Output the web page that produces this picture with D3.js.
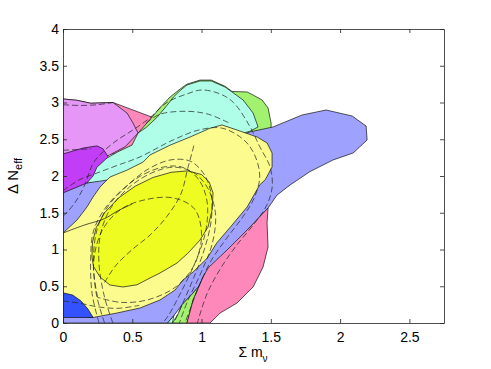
<!DOCTYPE html>
<html>
<head>
<meta charset="utf-8">
<script src="https://cdn.jsdelivr.net/npm/d3@7"></script>
<style>
  body { margin: 0; background: #fff; }
  text { font-family: "Liberation Sans", Arial, Helvetica, sans-serif; }
</style>
</head>
<body>
<svg id="chart" width="491" height="369"></svg>
<script>
'use strict';

// axis ticks
var xTicks = [0, 0.5, 1, 1.5, 2, 2.5];
var yTicks = [0, 0.5, 1, 1.5, 2, 2.5, 3, 3.5, 4];

// filled contours (sum m_nu, delta N_eff), in drawing order
var pinkTop = [[0,3.048],[0.1,3.03],[0.2,2.99],[0.361,3.0],[0.505,2.898],[0.643,2.80],[0.66,2.6],[0.5,2.3],[0,2.3]];
var greenTop = [[0.542,2.585],[0.643,2.80],[0.70,2.93],[0.773,3.075],[0.85,3.19],[0.895,3.25],[0.989,3.305],[1.07,3.305],
	[1.17,3.22],[1.22,3.15],[1.329,3.143],[1.372,3.102],[1.437,3.034],[1.48,2.925],[1.502,2.721],[1.502,2.65],
	[1.4,2.55],[1.0,2.3],[0.6,2.3]];
var violet = [[0,3.048],[0.1,3.03],[0.2,2.99],[0.361,3.0],[0.462,2.857],[0.505,2.721],[0.542,2.585],[0.45,2.4],[0.3,2.25],[0,2.2]];
var purple = [[0,2.30],[0.144,2.38],[0.245,2.41],[0.289,2.37],[0.33,2.25],[0.3,2.0],[0.15,1.8],[0,1.7]];
var blue = [[0,1.77],[0.173,1.905],[0.6,2.1],[1.0,2.35],[1.25,2.53],[1.35,2.6],[1.516,2.667],[1.726,2.83],[1.899,2.898],
	[2.087,2.816],[2.188,2.68],[2.195,2.49],[2.094,2.313],[1.949,2.218],[1.783,2.06],[1.639,1.878],[1.545,1.741],
	[1.48,1.565],[1.3,1.2],[1.1,0.8],[1.011,0.626],[0.989,0.517],[0.93,0.39],[0.86,0.25],[0.80,0.1],[0.755,0],[0,0]];
var cyan = [[0.542,2.585],[0.6,2.66],[0.68,2.8],[0.75,2.96],[0.8,3.08],[0.85,3.17],[0.895,3.238],[0.989,3.293],[1.07,3.293],
	[1.17,3.21],[1.22,3.143],[1.3,3.034],[1.372,2.857],[1.408,2.667],[1.35,2.61],[1.28,2.57],[1.2,2.52],[1.0,2.4],
	[0.8,2.25],[0.6,2.12],[0.47,2.03],[0.34,1.95],[0.173,1.905],[0.217,2.0],[0.245,2.12],[0.318,2.245],[0.397,2.33],[0.498,2.42]];
var cyanLow = [[0.755,0],[0.79,0],[0.80,0.1]];
var greenLow = [[0.79,0],[0.83,0.12],[0.86,0.25],[0.93,0.39],[0.989,0.517],[1.011,0.626],[0.939,0.313],[0.895,0]];
var pinkLow = [[0.895,0],[0.939,0.313],[1.011,0.626],[1.047,0.748],[1.184,0.993],[1.329,1.265],[1.48,1.565],[1.473,1.361],
	[1.48,1.034],[1.444,0.762],[1.372,0.49],[1.256,0.272],[1.134,0.136],[1.061,0]];
var yellowLight = [[0,1.224],[0.101,1.40],[0.173,1.578],[0.217,1.714],[0.267,1.85],[0.339,1.986],[0.462,2.08],[0.578,2.19],
	[0.628,2.286],[0.773,2.42],[0.917,2.53],[1.061,2.65],[1.148,2.694],[1.256,2.626],[1.401,2.531],[1.473,2.449],
	[1.509,2.313],[1.509,2.122],[1.46,1.95],[1.42,1.88],[1.33,1.58],[1.21,1.31],[1.11,1.09],[1.04,0.88],[0.939,0.694],
	[0.866,0.585],[0.809,0.449],[0.70,0.313],[0.556,0.204],[0.39,0.136],[0.217,0.075],[0.1,0.1],[0,0.15]];
var blueDark = [[0,0.41],[0.07,0.38],[0.13,0.3],[0.18,0.19],[0.217,0.075],[0,0.075]];
var yellowBright = [[0.209,0.9],[0.213,1.1],[0.24,1.3],[0.3,1.5],[0.4,1.7],[0.52,1.86],[0.65,1.98],[0.78,2.05],
	[0.9,2.07],[1.0,2.02],[1.055,1.92],[1.083,1.769],[1.076,1.537],[1.047,1.306],[0.989,1.129],
	[0.903,0.952],[0.823,0.816],[0.70,0.68],[0.628,0.612],[0.534,0.52],[0.433,0.49],[0.339,0.517],[0.267,0.626],[0.22,0.77]];

// open solid contour
var solidLine = [[0,1.224],[0.15,1.33],[0.3,1.42],[0.39,1.52],[0.5,1.62]];

// dashed contours
var dashOuter = [[0,1.45],[0.08,1.62],[0.15,1.85],[0.22,2.18],[0.3,2.35],[0.4,2.5],[0.5,2.62],[0.62,2.78],[0.75,3.0],[0.9,3.12],
	[1.0,3.17],[1.13,3.12],[1.23,3.0],[1.35,2.67],[1.42,2.4],[1.495,2.12],[1.51,1.85],[1.47,1.6],[1.38,1.35],[1.25,1.05],
	[1.14,0.75],[1.04,0.4],[0.97,0]];
var dashMid = [[0,1.8],[0.12,1.95],[0.245,2.04],[0.4,2.15],[0.556,2.26],[0.794,2.49],[0.989,2.63],[1.15,2.65],[1.3,2.5],
	[1.38,2.3],[1.42,2.0],[1.38,1.7],[1.3,1.45],[1.18,1.15],[1.07,0.85],[0.98,0.5],[0.92,0.2],[0.88,0]];
var dashTop = [[0.6,2.72],[0.7,2.84],[0.9,2.88],[1.05,2.84],[1.2,2.72]];
var dashTall = [[0.3,0],[0.24,0.4],[0.22,0.9],[0.25,1.3],[0.33,1.6],[0.47,1.88],[0.62,2.1],[0.78,2.22],[0.92,2.2],[1.02,2.02],
	[1.07,1.75],[1.07,1.4],[1.02,1.0],[0.94,0.6],[0.86,0.25],[0.8,0]];
var dashTall2 = [[0.26,0],[0.21,0.4],[0.2,0.9],[0.22,1.25],[0.3,1.55],[0.42,1.8],[0.56,2.0],[0.72,2.12],[0.86,2.12],[0.98,1.95],
	[1.04,1.65],[1.03,1.25],[0.96,0.85],[0.86,0.45],[0.76,0.1],[0.72,0]];
var dashTall3 = [[0.36,0],[0.3,0.35],[0.26,0.8],[0.27,1.2],[0.34,1.55],[0.48,1.85],[0.65,2.05],[0.8,2.12],[0.94,2.05],
	[1.04,1.85],[1.1,1.5],[1.08,1.1],[1.0,0.7],[0.9,0.3],[0.84,0]];
var dashInner = [[0.25,0.35],[0.22,0.8],[0.28,1.25],[0.42,1.55],[0.6,1.68],[0.8,1.7],[0.95,1.55],[1.0,1.2],[0.95,0.8],
	[0.82,0.5],[0.62,0.32],[0.42,0.28],[0.25,0.35]];
var dashDiag = [[0.3,0.55],[0.38,0.78],[0.5,1.0],[0.63,1.2],[0.75,1.45],[0.85,1.75],[0.9,2.1],[0.95,2.45]];
var dashViolet = [[0,2.97],[0.12,2.96],[0.25,2.97],[0.36,3.0]];
var dashPurple = [[0,2.35],[0.1,2.36],[0.2,2.37]];
var dashLow = [[0,0.3],[0.12,0.27],[0.25,0.22],[0.4,0.2],[0.55,0.24]];

var fills = [
	{pts: pinkTop, color: '#ff88bb'},
	{pts: greenTop, color: '#a3f26f'},
	{pts: violet, color: '#e596f6'},
	{pts: purple, color: '#c23ef6'},
	{pts: blue, color: '#9ea2fe'},
	{pts: cyan, color: '#afffe8'},
	{pts: cyanLow, color: '#afffe8'},
	{pts: greenLow, color: '#a3f26f'},
	{pts: pinkLow, color: '#ff88bb'},
	{pts: yellowLight, color: '#fbfb8e'},
	{pts: blueDark, color: '#3352fe'},
	{pts: yellowBright, color: '#effc22'}
];
var dashes = [dashOuter, dashMid, dashTop, dashTall, dashTall2, dashTall3, dashInner, dashDiag, dashViolet, dashPurple, dashLow];

var svg = d3.select('#chart');
var x = d3.scaleLinear().domain([0, 2.75]).range([63, 444]);
var y = d3.scaleLinear().domain([0, 4]).range([323, 29]);

svg.append('defs').append('clipPath')
		.attr('id', 'plotclip')
	.append('rect')
		.attr('x', 63).attr('y', 29)
		.attr('width', 381).attr('height', 294);

var plot = svg.append('g').attr('clip-path', 'url(#plotclip)');

var regionLine = d3.line()
	.x(function(d) { return x(d[0]); })
	.y(function(d) { return y(d[1]); })
	.curve(d3.curveLinearClosed);
var contourLine = d3.line()
	.x(function(d) { return x(d[0]); })
	.y(function(d) { return y(d[1]); })
	.curve(d3.curveCatmullRom.alpha(0.5));

plot.selectAll('path.region')
	.data(fills)
	.enter()
	.append('path')
		.classed('region', true)
		.attr('d', function(d) { return regionLine(d.pts); })
		.attr('fill', function(d) { return d.color; })
		.attr('stroke', '#111')
		.attr('stroke-width', 0.7)
		.attr('stroke-linejoin', 'round');

plot.append('path')
	.attr('d', contourLine(solidLine))
	.attr('fill', 'none')
	.attr('stroke', '#111')
	.attr('stroke-width', 0.7);

plot.selectAll('path.dash')
	.data(dashes)
	.enter()
	.append('path')
		.classed('dash', true)
		.attr('d', contourLine)
		.attr('fill', 'none')
		.attr('stroke', '#222')
		.attr('stroke-width', 0.7)
		.attr('stroke-dasharray', '6,3');

var fmt = function(d) { return String(d); };

var axes = [
	{ax: d3.axisBottom(x).tickValues(xTicks).tickFormat(fmt).tickPadding(9), t: 'translate(0,323)'},
	{ax: d3.axisTop(x).tickValues(xTicks).tickFormat(''), t: 'translate(0,29)'},
	{ax: d3.axisLeft(y).tickValues(yTicks).tickFormat(fmt).tickPadding(4), t: 'translate(63,0)'},
	{ax: d3.axisRight(y).tickValues(yTicks).tickFormat(''), t: 'translate(444,0)'}
];
axes.forEach(function(a) {
	var g = svg.append('g')
		.attr('transform', a.t)
		.call(a.ax.tickSizeInner(-4).tickSizeOuter(0));
	g.select('.domain').attr('stroke', '#222').attr('stroke-width', 0.8);
	g.selectAll('.tick line').attr('stroke', '#222').attr('stroke-width', 0.8);
	g.selectAll('.tick text')
		.attr('fill', '#000')
		.style('font-size', '14px')
		.style('font-family', '"Liberation Sans", Arial, sans-serif');
});

var xl = svg.append('text')
	.attr('x', 253)
	.attr('y', 357)
	.attr('text-anchor', 'middle')
	.style('font-size', '14px');
xl.append('tspan').text('\u03a3 m');
xl.append('tspan').attr('dy', 5).style('font-size', '10px').text('\u03bd');

var yl = svg.append('text')
	.attr('transform', 'translate(18,176) rotate(-90)')
	.attr('text-anchor', 'middle')
	.style('font-size', '15px');
yl.append('tspan').text('\u0394 N');
yl.append('tspan').attr('dy', 4).style('font-size', '11px').text('eff');
</script>
</body>
</html>
